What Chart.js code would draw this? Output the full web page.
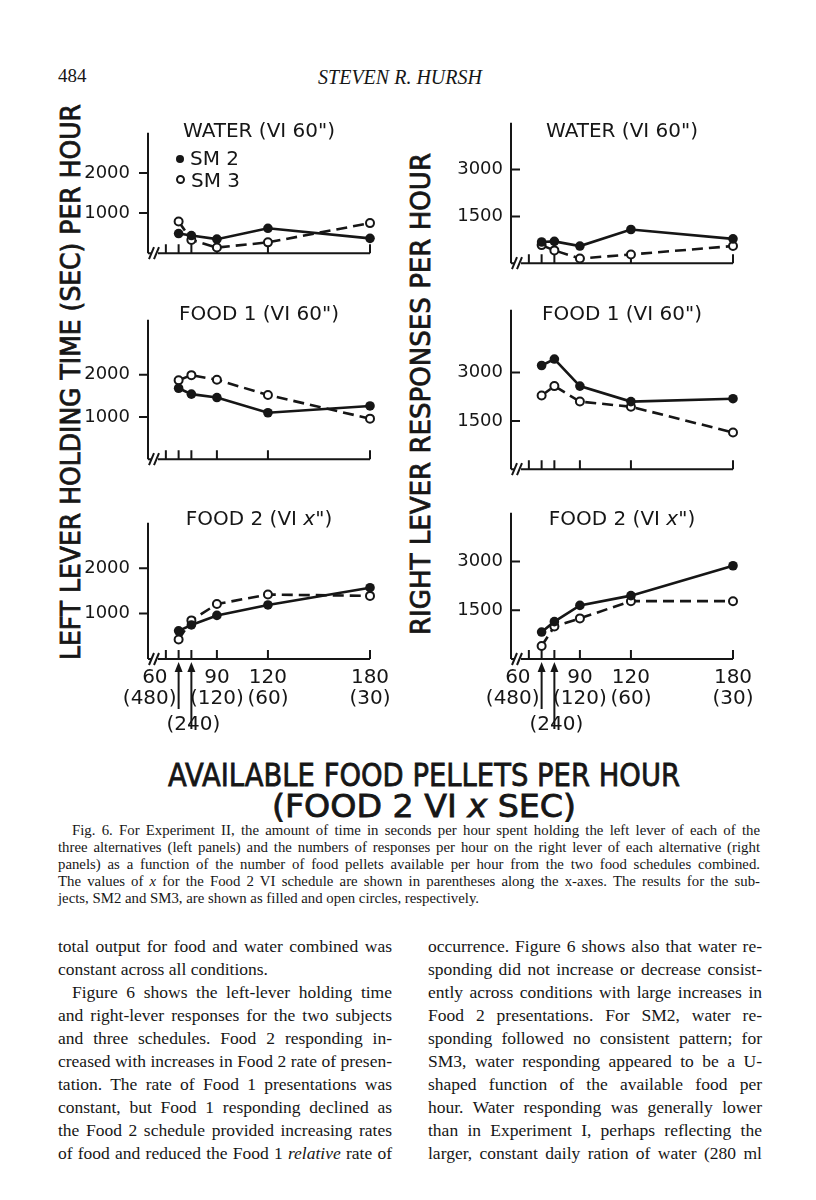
<!DOCTYPE html>
<html>
<head>
<meta charset="utf-8">
<script src="https://cdn.jsdelivr.net/npm/chart.js@4.4.1/dist/chart.umd.min.js"></script>
<style>
  body { margin: 0; background: #fff; }
  #page { position: relative; width: 816px; height: 1200px; overflow: hidden; background: #fff; color: #161616; }
  .abs { position: absolute; white-space: nowrap; }
  .sans { font-family: "DejaVu Sans", sans-serif; }
  .serif { font-family: "Liberation Serif", "DejaVu Serif", serif; }
  .heavy { -webkit-text-stroke: 0.8px #161616; }
  .mid { transform: translate(-50%, -50%); }
  canvas { position: absolute; }
  .dot { display: inline-block; width: 8px; height: 8px; border-radius: 50%; background: #161616; margin-right: 6px; vertical-align: 2px; }
  .ring { display: inline-block; width: 5px; height: 5px; border-radius: 50%; border: 2px solid #161616; margin-right: 6px; vertical-align: 3px; }
  .line { position: absolute; white-space: nowrap; }
</style>
</head>
<body>
<div id="page">
  <div class="abs serif" style="left:58px;top:65px;font-size:19px;">484</div>
  <div class="abs serif mid" style="left:400px;top:77px;font-size:20px;font-style:italic;">STEVEN R. HURSH</div>

  <div id="yTitleLeft" class="abs sans heavy" style="left:71px;top:382px;font-size:26px;">LEFT LEVER HOLDING TIME (SEC) PER HOUR</div>
  <div id="yTitleRight" class="abs sans heavy" style="left:420px;top:394px;font-size:27px;">RIGHT LEVER RESPONSES PER HOUR</div>

  <div id="bigTitle1" class="abs sans heavy" style="left:424px;top:775px;font-size:32px;">AVAILABLE FOOD PELLETS PER HOUR</div>
  <div id="bigTitle2" class="abs sans heavy" style="left:424px;top:806px;font-size:32px;">(FOOD 2 VI <i>x</i> SEC)</div>
</div>

<script>
// x values: food pellets available per hour (Food 1 VI 60" + Food 2 VI x")
const xValues = [67.5, 75, 90, 120, 180];
const xTickValues = [60, 67.5, 75, 90, 120, 180];

// left lever holding time (sec per hour)
const waterTimeSM2 = [490, 440, 350, 620, 370];
const waterTimeSM3 = [790, 330, 140, 270, 750];
const food1TimeSM2 = [1680, 1540, 1460, 1100, 1260];
const food1TimeSM3 = [1870, 1990, 1880, 1520, 960];
const food2TimeSM2 = [620, 750, 960, 1190, 1570];
const food2TimeSM3 = [430, 850, 1210, 1420, 1390];

// right lever responses per hour
const waterRespSM2 = [680, 700, 550, 1080, 780];
const waterRespSM3 = [580, 410, 150, 280, 550];
const food1RespSM2 = [3220, 3420, 2580, 2100, 2190];
const food1RespSM3 = [2290, 2580, 2100, 1940, 1140];
const food2RespSM2 = [830, 1150, 1650, 1950, 2870];
const food2RespSM3 = [400, 1000, 1250, 1780, 1780];

const leftTicks = [1000, 2000];
const rightTicks = [1500, 3000];
const panelTitles = ['WATER (VI 60")', 'FOOD 1 (VI 60")', 'FOOD 2 (VI <i>x</i>")'];
const legendLabels = ['SM 2', 'SM 3'];

// x axis labels under the bottom panels: [value, top label, bottom label]
const xLabels = [[90, '90', '(120)'], [120, '120', '(60)'], [180, '180', '(30)']];
const startLabel = '60';
const arrowLabels = [[67.5, '(480)'], [75, '(240)']];

const captionLines = [
  'Fig. 6. For Experiment II, the amount of time in seconds per hour spent holding the left lever of each of the',
  'three alternatives (left panels) and the numbers of responses per hour on the right lever of each alternative (right',
  'panels) as a function of the number of food pellets available per hour from the two food schedules combined.',
  'The values of <i>x</i> for the Food 2 VI schedule are shown in parentheses along the x-axes. The results for the sub-',
  'jects, SM2 and SM3, are shown as filled and open circles, respectively.'
];
const leftColumn = [
  'total output for food and water combined was',
  'constant across all conditions.',
  'Figure 6 shows the left-lever holding time',
  'and right-lever responses for the two subjects',
  'and three schedules. Food 2 responding in-',
  'creased with increases in Food 2 rate of presen-',
  'tation. The rate of Food 1 presentations was',
  'constant, but Food 1 responding declined as',
  'the Food 2 schedule provided increasing rates',
  'of food and reduced the Food 1 <i>relative</i> rate of'
];
const rightColumn = [
  'occurrence. Figure 6 shows also that water re-',
  'sponding did not increase or decrease consist-',
  'ently across conditions with large increases in',
  'Food 2 presentations. For SM2, water re-',
  'sponding followed no consistent pattern; for',
  'SM3, water responding appeared to be a U-',
  'shaped function of the available food per',
  'hour. Water responding was generally lower',
  'than in Experiment I, perhaps reflecting the',
  'larger, constant daily ration of water (280 ml'
];

const page = document.getElementById('page');
const INK = '#161616';
const FONT = '"DejaVu Sans", sans-serif';

// panel layout
const rows = [
  { top: 118, bottom: 268, leftMax: 3000, rightMax: 4500 },
  { top: 305, bottom: 474, leftMax: 3300, rightMax: 4950 },
  { top: 508, bottom: 659, leftMax: 3000, rightMax: 4500 }
];
const cols = [
  { left: 148, right: 370, ticks: leftTicks, tickDir: -1, labelPad: 18 },
  { left: 511, right: 733, ticks: rightTicks, tickDir: 1, labelPad: 8 }
];

const framePlugin = {
  id: 'frame',
  beforeDatasetsDraw(chart) {
    const { ctx, chartArea: a, scales: { x, y } } = chart;
    const o = chart.options.plugins.frame;
    ctx.save();
    ctx.strokeStyle = INK;
    ctx.lineWidth = 2;
    ctx.beginPath();
    ctx.moveTo(a.left, a.top);
    ctx.lineTo(a.left, a.bottom);
    ctx.moveTo(a.left, a.bottom);
    ctx.lineTo(a.left + 3, a.bottom);
    ctx.moveTo(a.left + 10, a.bottom);
    ctx.lineTo(a.right, a.bottom);
    // axis break
    ctx.moveTo(a.left + 1, a.bottom + 6);
    ctx.lineTo(a.left + 6, a.bottom - 6);
    ctx.moveTo(a.left + 6, a.bottom + 6);
    ctx.lineTo(a.left + 11, a.bottom - 6);
    o.yTicks.forEach(v => {
      const py = y.getPixelForValue(v);
      ctx.moveTo(a.left, py);
      ctx.lineTo(a.left + 9 * o.tickDir, py);
    });
    xTickValues.forEach(v => {
      const px = x.getPixelForValue(v);
      ctx.moveTo(px, a.bottom);
      ctx.lineTo(px, a.bottom - 9);
    });
    ctx.stroke();
    ctx.restore();
  },
  afterDraw(chart) {
    const o = chart.options.plugins.frame;
    if (!o.xLabels) return;
    const { ctx, chartArea: a, scales: { x } } = chart;
    ctx.save();
    ctx.fillStyle = INK;
    ctx.strokeStyle = INK;
    ctx.lineWidth = 2;
    ctx.font = '20px ' + FONT;
    ctx.textBaseline = 'middle';
    ctx.textAlign = 'center';
    ctx.fillText(startLabel, x.getPixelForValue(60) - 11, a.bottom + 19);
    xLabels.forEach(([v, top, bot]) => {
      const px = x.getPixelForValue(v);
      ctx.fillText(top, px, a.bottom + 19);
      ctx.fillText(bot, px, a.bottom + 40);
    });
    const p1 = x.getPixelForValue(arrowLabels[0][0]);
    const p2 = x.getPixelForValue(arrowLabels[1][0]);
    ctx.textAlign = 'right';
    ctx.fillText(arrowLabels[0][1], p1 - 2, a.bottom + 40);
    ctx.textAlign = 'center';
    ctx.fillText(arrowLabels[1][1], p2 + 2, a.bottom + 66);
    [[p1, 50], [p2, 70]].forEach(([px, len]) => {
      ctx.beginPath();
      ctx.moveTo(px, a.bottom + len);
      ctx.lineTo(px, a.bottom + 10);
      ctx.stroke();
      ctx.beginPath();
      ctx.moveTo(px, a.bottom + 3);
      ctx.lineTo(px - 4, a.bottom + 13);
      ctx.lineTo(px + 4, a.bottom + 13);
      ctx.closePath();
      ctx.fill();
    });
    ctx.restore();
  }
};

function makePanel(row, col, yMax, sm2, sm3, withXLabels) {
  const YW = 70, PT = 14, PR = 30, PB = withXLabels ? 90 : 14;
  const canvas = document.createElement('canvas');
  canvas.width = YW + (col.right - col.left) + PR;
  canvas.height = PT + (row.bottom - row.top) + PB;
  canvas.style.left = (col.left - YW) + 'px';
  canvas.style.top = (row.top - PT) + 'px';
  page.appendChild(canvas);

  new Chart(canvas, {
    type: 'line',
    data: {
      datasets: [{
        label: 'SM 2',
        data: xValues.map((v, i) => ({ x: v, y: sm2[i] })),
        borderColor: INK,
        borderWidth: 2.6,
        pointRadius: 4.8,
        pointBackgroundColor: INK,
        pointBorderColor: INK,
        pointBorderWidth: 0,
        clip: false
      }, {
        label: 'SM 3',
        data: xValues.map((v, i) => ({ x: v, y: sm3[i] })),
        borderColor: INK,
        borderWidth: 2.6,
        borderDash: [11, 6],
        pointRadius: 4,
        pointBackgroundColor: '#fff',
        pointBorderColor: INK,
        pointBorderWidth: 2,
        clip: false
      }]
    },
    options: {
      responsive: false,
      animation: false,
      events: [],
      layout: { padding: { top: PT, right: PR, bottom: PB, left: 0 } },
      plugins: {
        legend: { display: false },
        tooltip: { enabled: false },
        frame: { yTicks: col.ticks, tickDir: col.tickDir, xLabels: withXLabels }
      },
      scales: {
        x: { type: 'linear', display: false, min: 49.5, max: 180 },
        y: {
          min: 0, max: yMax,
          grid: { display: false, drawTicks: false },
          border: { display: false },
          afterBuildTicks: s => { s.ticks = col.ticks.map(v => ({ value: v })); },
          afterFit: s => { s.width = YW; },
          ticks: {
            padding: col.labelPad, color: INK, font: { family: FONT, size: 18 },
            callback: v => String(v)
          }
        }
      }
    },
    plugins: [framePlugin]
  });
}

const leftData = [[waterTimeSM2, waterTimeSM3], [food1TimeSM2, food1TimeSM3], [food2TimeSM2, food2TimeSM3]];
const rightData = [[waterRespSM2, waterRespSM3], [food1RespSM2, food1RespSM3], [food2RespSM2, food2RespSM3]];

rows.forEach((row, r) => {
  makePanel(row, cols[0], row.leftMax, leftData[r][0], leftData[r][1], r === 2);
  makePanel(row, cols[1], row.rightMax, rightData[r][0], rightData[r][1], r === 2);
  cols.forEach(col => {
    const t = document.createElement('div');
    t.className = 'abs sans mid';
    t.style.fontSize = '20px';
    t.style.left = ((col.left + col.right) / 2) + 'px';
    t.style.top = (row.top + [12, 8, 10][r]) + 'px';
    t.innerHTML = panelTitles[r];
    page.appendChild(t);
  });
});

// legend in the water panel (left)
legendLabels.forEach((lab, i) => {
  const d = document.createElement('div');
  d.className = 'abs sans';
  d.style.fontSize = '20px';
  d.style.left = '176px';
  d.style.top = (146 + i * 22) + 'px';
  d.innerHTML = '<span class="' + (i === 0 ? 'dot' : 'ring') + '"></span>' + lab;
  page.appendChild(d);
});

// stretch a centred text to a target length
function fitCentered(id, target, rotate) {
  const el = document.getElementById(id);
  const w = el.getBoundingClientRect().width;
  const s = target / w;
  el.style.transform = 'translate(-50%, -50%)' + (rotate ? ' rotate(-90deg)' : '') + ' scale(' + s + ', 1)';
}
fitCentered('yTitleLeft', 556, true);
fitCentered('yTitleRight', 482, true);
fitCentered('bigTitle1', 512, false);
fitCentered('bigTitle2', 304, false);

// justified text lines
function addLines(lines, left, width, top, step, size, indentIdx, lastIdx) {
  lines.forEach((html, i) => {
    const el = document.createElement('div');
    el.className = 'line serif';
    el.style.fontSize = size + 'px';
    el.innerHTML = html;
    page.appendChild(el);
    const ind = indentIdx.includes(i) ? 14 : 0;
    const target = width - ind;
    const h = el.getBoundingClientRect().height;
    el.style.left = (left + ind) + 'px';
    el.style.top = (top + i * step - h / 2) + 'px';
    if (lastIdx.includes(i)) return;
    const w = el.getBoundingClientRect().width;
    const spaces = (el.textContent.match(/ /g) || []).length;
    if (w < target && spaces) {
      el.style.wordSpacing = ((target - w) / spaces) + 'px';
    } else if (w > target) {
      el.style.transformOrigin = 'left center';
      el.style.transform = 'scale(' + (target / w) + ', 1)';
    }
  });
}
addLines(captionLines, 58, 702, 830, 17.2, 14.8, [0], [4]);
addLines(leftColumn, 58, 334, 946, 23, 17.5, [2], [1]);
addLines(rightColumn, 428, 334, 946, 23, 17.5, [], []);
</script>
</body>
</html>
